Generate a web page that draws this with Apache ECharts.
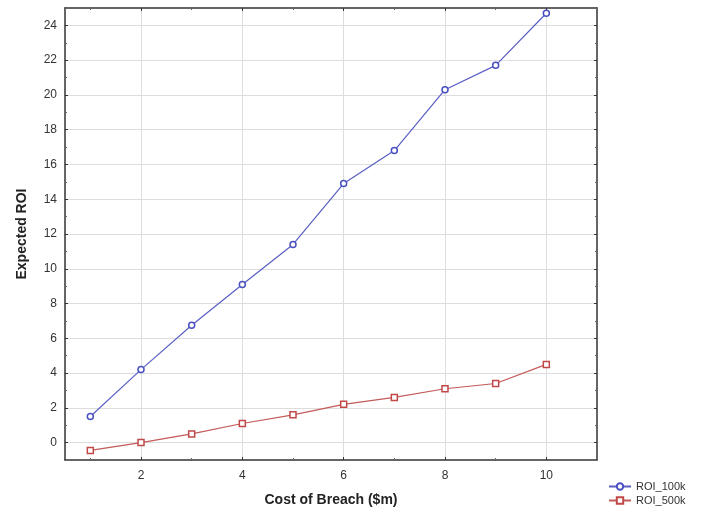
<!DOCTYPE html>
<html><head><meta charset="utf-8">
<script src="https://cdn.jsdelivr.net/npm/echarts@6/dist/echarts.min.js"></script>
<style>html,body{margin:0;padding:0;background:#fff}#c{width:712px;height:512px}</style>
</head><body><div id="c"></div>
<script>
const costs = [1, 2, 3, 4, 5, 6, 7, 8, 9, 10];
const roi100k = [1.5, 4.2, 6.75, 9.1, 11.4, 14.9, 16.8, 20.3, 21.7, 24.7];
const roi500k = [-0.45, 0.0, 0.5, 1.1, 1.6, 2.2, 2.6, 3.1, 3.4, 4.5];
const seriesNames = ['ROI_100k', 'ROI_500k'];
const xTicks = [2, 4, 6, 8, 10];
const xMinorTicks = [1, 3, 5, 7, 9, 11];
const yTicks = [0, 2, 4, 6, 8, 10, 12, 14, 16, 18, 20, 22, 24];
const yMinorTicks = [-1, 1, 3, 5, 7, 9, 11, 13, 15, 17, 19, 21, 23, 25];

const chart = echarts.init(document.getElementById('c'));
const font = 'Liberation Sans, Arial, sans-serif';
function mkAxis(ticks, extra) {
  return Object.assign({
    type: 'value',
    axisLine: { show: true, onZero: false, lineStyle: { color: '#333', width: 1.5 } },
    axisTick: { show: true, inside: true, length: 3, customValues: ticks, lineStyle: { color: '#333' } },
    axisLabel: { color: '#333', fontSize: 12, fontFamily: font, customValues: ticks },
    splitLine: { show: true, lineStyle: { color: '#ddd', width: 1 } }
  }, extra);
}
function mkMinor(ticks, extra) {
  return Object.assign({
    type: 'value',
    axisLine: { show: false, onZero: false },
    axisTick: { show: true, inside: true, length: 2, customValues: ticks, lineStyle: { color: '#666' } },
    axisLabel: { show: false, customValues: ticks },
    splitLine: { show: false }
  }, extra);
}
chart.setOption({
  animation: false,
  backgroundColor: '#fff',
  grid: { left: 65, right: 115, top: 8, bottom: 52, show: false },
  xAxis: [
    mkAxis(xTicks, {
      min: 0.5, max: 11,
      axisLabel: { color: '#333', fontSize: 12, fontFamily: font, customValues: xTicks, margin: 10 },
      name: 'Cost of Breach ($m)', nameLocation: 'middle', nameGap: 33,
      nameTextStyle: { fontSize: 14, fontWeight: 'bold', color: '#222', fontFamily: font }
    }),
    mkAxis(xTicks, { position: 'top', min: 0.5, max: 11, axisLabel: { show: false, customValues: xTicks }, splitLine: { show: false } }),
    mkMinor(xMinorTicks, { position: 'bottom', min: 0.5, max: 11 }),
    mkMinor(xMinorTicks, { position: 'top', min: 0.5, max: 11 })
  ],
  yAxis: [
    mkAxis(yTicks, {
      min: -1, max: 25,
      name: 'Expected ROI', nameLocation: 'middle', nameGap: 36,
      nameTextStyle: { fontSize: 14, fontWeight: 'bold', color: '#222', fontFamily: font }
    }),
    mkAxis(yTicks, { position: 'right', min: -1, max: 25, axisLabel: { show: false, customValues: yTicks }, splitLine: { show: false } }),
    mkMinor(yMinorTicks, { position: 'left', min: -1, max: 25 }),
    mkMinor(yMinorTicks, { position: 'right', min: -1, max: 25 })
  ],
  legend: {
    orient: 'vertical', left: 608, top: 481, itemGap: 3, padding: 0,
    itemWidth: 22, itemHeight: 8,
    textStyle: { fontSize: 11, color: '#333', fontFamily: font },
    data: seriesNames
  },
  series: [
    {
      name: seriesNames[0], type: 'line',
      data: costs.map((c, i) => [c, roi100k[i]]),
      symbol: 'circle', symbolSize: 6,
      lineStyle: { color: '#5a5fc4', width: 1.2 },
      itemStyle: { color: '#fff', borderColor: '#4a50c0', borderWidth: 1.5 }
    },
    {
      name: seriesNames[1], type: 'line',
      data: costs.map((c, i) => [c, roi500k[i]]),
      symbol: 'rect', symbolSize: 6,
      lineStyle: { color: '#c45a5a', width: 1.2 },
      itemStyle: { color: '#fff', borderColor: '#c04848', borderWidth: 1.5 }
    }
  ]
});
</script></body></html>
